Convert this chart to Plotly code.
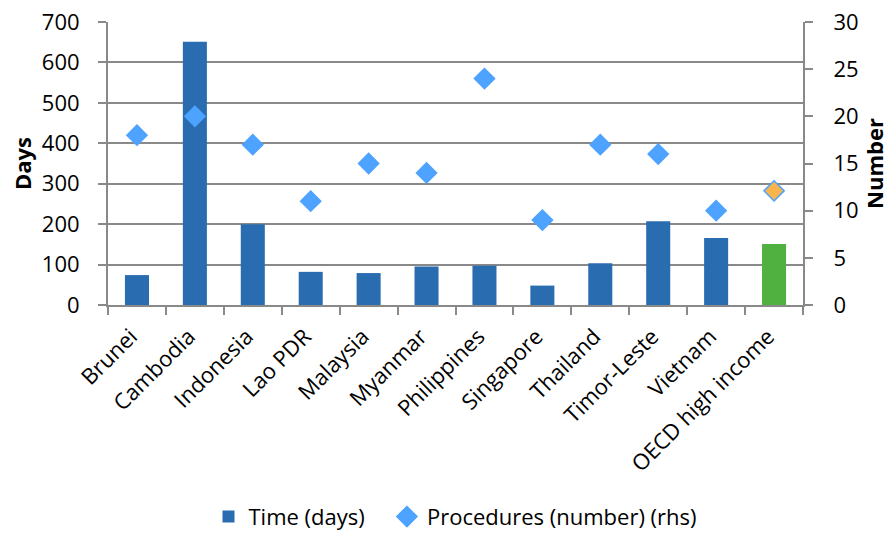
import plotly.graph_objects as go

countries = ["Brunei", "Cambodia", "Indonesia", "Lao PDR", "Malaysia", "Myanmar",
             "Philippines", "Singapore", "Thailand", "Timor-Leste", "Vietnam",
             "OECD high income"]
time_days = [74, 651, 200, 82, 79, 95, 97, 48, 103, 207, 166, 151]
procedures = [18, 20, 17, 11, 15, 14, 24, 9, 17, 16, 10, 12.1]

BLUE_BAR = "#2A6CB0"
GREEN_BAR = "#50B140"
DIAMOND = "#4DA3FF"
ORANGE = "#F9B54C"
GRID = "#898989"
FONT = "Open Sans"

bar_colors = [GREEN_BAR if c == "OECD high income" else BLUE_BAR for c in countries]
dia_colors = [ORANGE if c == "OECD high income" else DIAMOND for c in countries]

fig = go.Figure()
fig.add_trace(go.Bar(
    x=countries, y=time_days, name="Time (days)&nbsp;&nbsp;&nbsp;",
    marker=dict(color=bar_colors, line=dict(width=0)),
))
fig.add_trace(go.Scatter(
    x=countries, y=procedures, name="Procedures (number) (rhs)", yaxis="y2",
    mode="markers",
    marker=dict(symbol="diamond", size=15.5, color=dia_colors,
                line=dict(color=DIAMOND, width=1.5)),
))

fig.update_layout(
    width=892, height=541,
    margin=dict(l=108, r=89, t=22, b=236, autoexpand=False),
    paper_bgcolor="white", plot_bgcolor="white",
    font=dict(family=FONT, size=22, color="#000000"),
    bargap=0.585,
    showlegend=True,
    legend=dict(orientation="h", x=0.5, xanchor="center",
                yref="container", y=0.006, yanchor="bottom",
                font=dict(size=22), itemwidth=30, traceorder="normal"),
    xaxis=dict(
        type="category", range=[-0.5, len(countries) - 0.5], automargin=False,
        tickangle=-45, showgrid=False,
        showline=True, linecolor=GRID, linewidth=2,
        ticks="outside", tickson="boundaries", ticklen=8, tickcolor=GRID, tickwidth=2,
        ticklabelstandoff=8, ticklabelshift=-6,
        tickfont=dict(size=22),
    ),
    yaxis=dict(
        range=[0, 700], dtick=100, showgrid=True, gridcolor=GRID, gridwidth=2,
        showline=True, linecolor=GRID, linewidth=2, automargin=False,
        ticks="outside", ticklen=8, tickcolor=GRID, tickwidth=2,
        ticklabelstandoff=14,
        zeroline=False, tickfont=dict(size=22),
        title=dict(text="<b>Days</b>", font=dict(size=22), standoff=4),
    ),
    yaxis2=dict(
        range=[0, 30], dtick=5, overlaying="y", side="right", showgrid=False,
        showline=True, linecolor=GRID, linewidth=2, automargin=False,
        ticks="outside", ticklen=8, tickcolor=GRID, tickwidth=2,
        ticklabelstandoff=16,
        zeroline=False, tickfont=dict(size=22),
        title=dict(text="<b>Number</b>", font=dict(size=22), standoff=8),
    ),
)

fig.write_html("out.html")
